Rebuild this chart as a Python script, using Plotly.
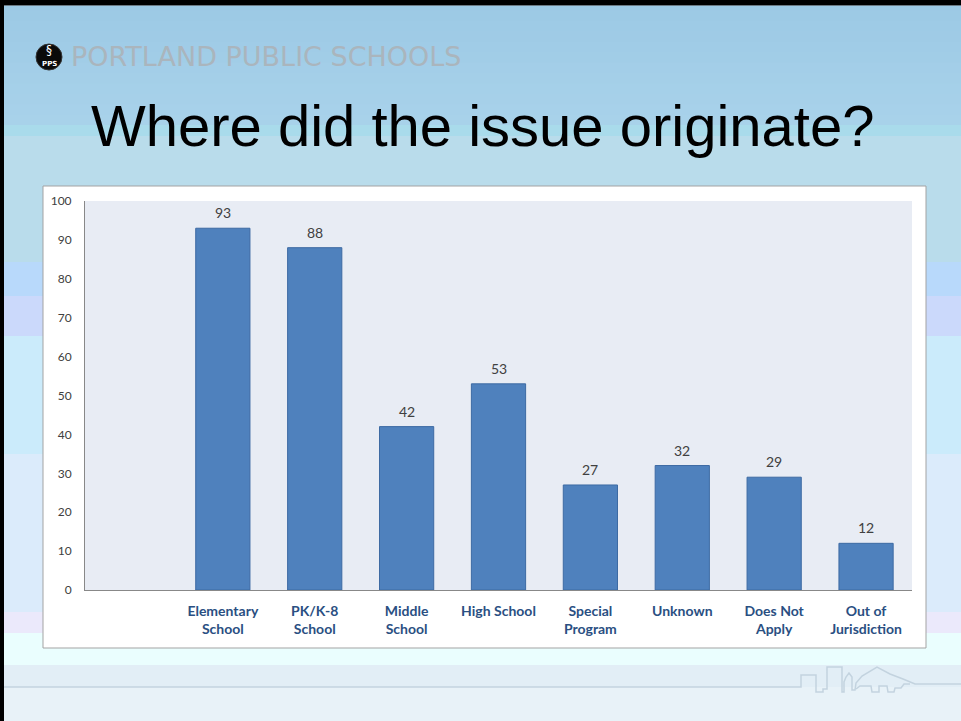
import plotly.graph_objects as go

# ---- data -------------------------------------------------------------
categories = ["", "Elementary<br>School", "PK/K-8<br>School", "Middle<br>School",
              "High School", "Special<br>Program", "Unknown", "Does Not<br>Apply",
              "Out of<br>Jurisdiction"]
counts = [None, 93, 88, 42, 53, 27, 32, 29, 12]
y_ticks = list(range(0, 101, 10))

W, H = 961, 721


def px(x):
    return x / W


def py(y):
    return 1 - y / H


def rect(x0, y0, x1, y1, color, line=None):
    return dict(type="rect", xref="paper", yref="paper",
                x0=px(x0), x1=px(x1), y0=py(y1), y1=py(y0),
                fillcolor=color, line=line or dict(width=0), layer="below")


def hexmix(c1, c2, t):
    a = [int(c1[i:i + 2], 16) for i in (1, 3, 5)]
    b = [int(c2[i:i + 2], 16) for i in (1, 3, 5)]
    return "#" + "".join(f"{round(a[k] + (b[k] - a[k]) * t):02x}" for k in range(3))


shapes = []

# slide background: soft gradient at the top, then horizontal colour bands
steps = 12
for i in range(steps):
    y0 = 125 * i / steps
    y1 = 125 * (i + 1) / steps
    shapes.append(rect(0, y0, W, y1 + 1.5, hexmix("#9cc9e5", "#a8d2ea", i / (steps - 1))))

bands = [
    (125, 136, "#a9dbeb"),
    (136, 262, "#b9dceb"),
    (262, 296, "#b8d9fb"),
    (296, 336, "#cbd9fb"),
    (336, 454, "#cbebfb"),
    (454, 612, "#dbebfb"),
    (612, 633, "#ebe9fb"),
    (633, 665, "#eafefe"),
    (665, 687, "#e2eef6"),
    (687, 721, "#e8f2f8"),
]
for y0, y1, c in bands:
    shapes.append(rect(0, y0, W, y1 + 1, c))

# slide frame on top and left
shapes.append(rect(0, 0, W, 5, "#000000"))
shapes.append(rect(0, 0, 4, H, "#000000"))
shapes.append(rect(4, 5, W, 6, "#6c7a84"))

# skyline outline near the bottom
sky_pts = [(4, 687), (801, 687), (801, 675), (816, 675), (816, 692), (823, 692),
           (823, 689), (827, 689), (827, 667), (842, 667), (842, 692), (844, 692),
           (844, 682), (846, 677), (849, 673), (852, 677), (852, 690), (855, 690),
           (856, 683), (862, 676), (877, 667), (890, 674), (903, 679), (915, 684),
           (W, 684)]
sky2_pts = [(856, 689), (860, 686), (871, 686), (872, 692), (879, 692), (879, 686),
            (887, 686), (888, 692), (894, 692), (895, 688), (901, 688), (904, 684),
            (910, 684)]


def path_from(pts):
    return "M " + " L ".join(f"{px(x):.5f},{py(y):.5f}" for x, y in pts)


for pts in (sky_pts, sky2_pts):
    shapes.append(dict(type="path", xref="paper", yref="paper", path=path_from(pts),
                       line=dict(color="#c3d3df", width=1.5), layer="below"))

# chart box and plot area background
shapes.append(rect(43, 186, 926, 648, "#ffffff", line=dict(color="#a3a3a3", width=1)))
shapes.append(rect(85, 201, 912, 590, "#e8ecf4"))

# logo
shapes.append(dict(type="circle", xref="paper", yref="paper",
                   x0=px(36), x1=px(62), y0=py(70), y1=py(44),
                   fillcolor="#0a0a0a", line=dict(color="#333333", width=1), layer="above"))

fig = go.Figure()
fig.add_trace(go.Bar(
    x=list(range(len(categories))),
    y=counts,
    width=0.59,
    marker=dict(color="#4f81bd", line=dict(color="#3d6aa3", width=1)),
    hoverinfo="skip",
))

annotations = [
    dict(text="Where did the issue originate?", xref="paper", yref="paper",
         x=px(483), y=py(125), xanchor="center", yanchor="middle", showarrow=False,
         font=dict(family="Liberation Sans, Arial, sans-serif", size=58, color="#000000")),
    dict(text="PORTLAND PUBLIC SCHOOLS", xref="paper", yref="paper",
         x=px(69), y=py(57), xanchor="left", yanchor="middle", showarrow=False,
         font=dict(family="DejaVu Sans, sans-serif", size=27, color="#aab5bd")),
    dict(text="§", xref="paper", yref="paper",
         x=px(49), y=py(50), xanchor="center", yanchor="middle", showarrow=False,
         font=dict(family="DejaVu Sans, sans-serif", size=12, color="#ffffff")),
    dict(text="<b>PPS</b>", xref="paper", yref="paper",
         x=px(49), y=py(64), xanchor="center", yanchor="middle", showarrow=False,
         font=dict(family="DejaVu Sans, sans-serif", size=7, color="#ffffff")),
]

# value labels above each bar, placed on the data axes
for i, v in enumerate(counts):
    if v is None:
        continue
    annotations.append(dict(
        x=i, y=v, xref="x", yref="y", text=str(v), showarrow=False,
        xanchor="center", yanchor="bottom", yshift=5,
        font=dict(family="Lato, Open Sans, sans-serif", size=14, color="#404040")))

fig.update_layout(
    width=W, height=H,
    margin=dict(l=0, r=0, t=0, b=0, pad=0, autoexpand=False),
    paper_bgcolor="#b9dceb",
    plot_bgcolor="rgba(0,0,0,0)",
    showlegend=False,
    shapes=shapes,
    annotations=annotations,
    xaxis=dict(
        domain=[px(85), px(912)],
        range=[-0.5, len(categories) - 0.5],
        tickmode="array",
        tickvals=list(range(len(categories))),
        ticktext=categories,
        tickfont=dict(family="Lato, Open Sans, sans-serif", size=14, color="#2a4f82",
                      weight="bold"),
        showline=True, linecolor="#888888", linewidth=1,
        showgrid=False, zeroline=False, ticks="",
        ticklabelstandoff=8,
        automargin=False,
        fixedrange=True,
    ),
    yaxis=dict(
        domain=[py(590), py(201)],
        range=[0, 100],
        tickmode="array",
        tickvals=y_ticks,
        tickfont=dict(family="Lato, Open Sans, sans-serif", size=12, color="#404040"),
        showline=True, linecolor="#888888", linewidth=1,
        showgrid=False, zeroline=False, ticks="",
        ticklabelstandoff=10,
        automargin=False,
        fixedrange=True,
    ),
)

fig.write_html("out.html", config={"displayModeBar": False})
